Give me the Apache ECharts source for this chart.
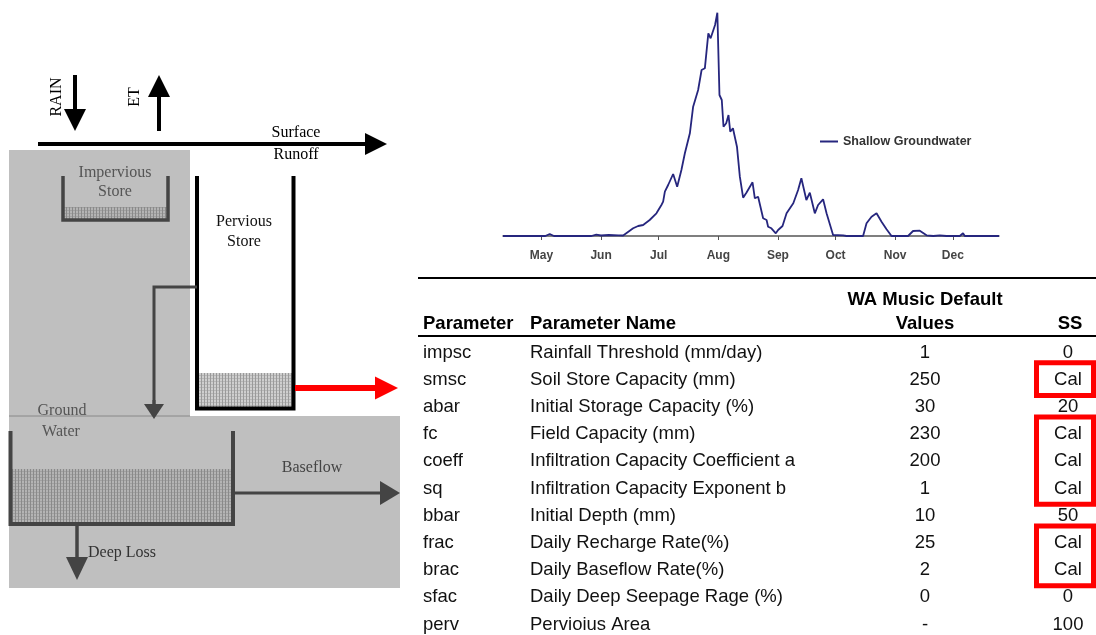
<!DOCTYPE html>
<html>
<head>
<meta charset="utf-8">
<script src="https://cdn.jsdelivr.net/npm/echarts@6/dist/echarts.min.js"></script>
<style>
  html, body { margin: 0; padding: 0; background: #fff; }
  #main { width: 1096px; height: 635px; }
</style>
</head>
<body>
<div id="main"></div>
<script>
// hydrograph: days after 1 May and shallow groundwater level (relative)
const gwDays = [-20, 2, 4.3, 6.5, 26, 28.5, 31, 35, 40, 42.5, 47.7, 50.3, 52.9, 56.3, 59.8, 62.4, 63.3, 64.2,
  65.9, 68.5, 70.6, 72.8, 74.6, 77.2, 78.9, 81.5, 83.3, 85, 86.8, 88, 90.3, 91.5, 92.6, 93.8, 94.7, 96.1,
  97.3, 98.2, 99.6, 101.7, 103.2, 104.9, 106.6, 109.8, 111, 112.7, 115.3, 117.1, 117.9, 119.6, 121.9,
  123.1, 125.4, 127.5, 131, 133.5, 135.2, 137, 137.8, 139.6, 142.2, 143.9, 146.5, 148.3, 151.7, 152.2,
  156.9, 158.7, 167.3, 169.1, 171.7, 174.3, 176.9, 179.5, 182.1, 190.7, 193.3, 196.8, 200.3, 203.8,
  207.2, 210.7, 217.6, 219.3, 220.2, 238];
const gwLevel = [0, 0, 2, 0, 0, 1.3, 0.5, 1, 0.7, 0.5, 7.7, 10, 11, 16, 22.7, 31, 34.3, 44.3,
  51, 62, 49.3, 66, 82.7, 102.7, 129.3, 146, 166, 167.7, 202.7, 197.7, 211, 223.3, 141, 136, 109.3, 112.7,
  121, 104.3, 107.7, 89.3, 59.3, 38.3, 43.3, 53.7, 37.7, 39.3, 17.7, 16, 9.3, 7.7, 2.7,
  6, 10, 22.7, 32.7, 46, 57.7, 42.7, 36, 43.3, 22.7, 31, 36.7, 22.7, 1, 0,
  0.7, 0, 0, 12.7, 19.3, 22.7, 14.3, 6.7, 0, 0, 5, 5.3, 0.7, 0,
  0.7, 0, 0, 2.7, 0, 0];

// parameter table
const paramCodes = ['impsc', 'smsc', 'abar', 'fc', 'coeff', 'sq', 'bbar', 'frac', 'brac', 'sfac', 'perv'];
const paramNames = ['Rainfall Threshold (mm/day)', 'Soil Store Capacity (mm)', 'Initial Storage Capacity (%)',
  'Field Capacity (mm)', 'Infiltration Capacity Coefficient a', 'Infiltration Capacity Exponent b',
  'Initial Depth (mm)', 'Daily Recharge Rate(%)', 'Daily Baseflow Rate(%)', 'Daily Deep Seepage Rage (%)',
  'Pervioius Area'];
const waDefaults = ['1', '250', '30', '230', '200', '1', '10', '25', '2', '0', '-'];
const ssValues = ['0', 'Cal', '20', 'Cal', 'Cal', 'Cal', '50', 'Cal', 'Cal', '0', '100'];

const DAY = 86400000;
const may1 = Date.UTC(2010, 4, 1);
const toTs = d => may1 + d * DAY;

const chart = echarts.init(document.getElementById('main'));

const serif = 'Liberation Serif, Times New Roman, serif';
const sans = 'Liberation Sans, Arial, sans-serif';

// fine hatch used for water in the stores
function makeStipple(bg, dark, light) {
  const c = document.createElement('canvas');
  c.width = 3; c.height = 3;
  const ctx = c.getContext('2d');
  ctx.fillStyle = bg; ctx.fillRect(0, 0, 3, 3);
  ctx.fillStyle = light; ctx.fillRect(0, 0, 3, 1);
  ctx.fillStyle = dark; ctx.fillRect(0, 0, 1, 3);
  return { image: c, repeat: 'repeat' };
}
const stippleGray = makeStipple('#b4b4b4', '#8a8a8a', '#a0a0a0');
const stippleWhite = makeStipple('#cfcfcf', '#9a9a9a', '#b6b6b6');

function txt(text, x, y, opts) {
  opts = opts || {};
  return {
    type: 'text', x: x, y: y, rotation: opts.rotation || 0, z: 10,
    style: {
      text: text, fill: opts.color || '#000',
      font: (opts.weight || 'normal') + ' ' + (opts.size || 16) + 'px ' + (opts.family || serif),
      textAlign: opts.align || 'center', textVerticalAlign: 'middle'
    }
  };
}
function seg(x1, y1, x2, y2, color, lw) {
  return { type: 'line', z: 5, shape: { x1: x1, y1: y1, x2: x2, y2: y2 }, style: { stroke: color, lineWidth: lw } };
}
function poly(points, color, lw) {
  return { type: 'polyline', z: 5, shape: { points: points }, style: { stroke: color, lineWidth: lw, fill: null } };
}
function box(x, y, w, h, color) {
  return { type: 'rect', z: 1, shape: { x: x, y: y, width: w, height: h }, style: { fill: color } };
}
// arrow from (x1,y1) to tip (x2,y2)
function arrow(x1, y1, x2, y2, color, lw, len, wid) {
  const dx = x2 - x1, dy = y2 - y1, L = Math.sqrt(dx * dx + dy * dy);
  const ux = dx / L, uy = dy / L;
  const bx = x2 - ux * len, by = y2 - uy * len;
  return [
    seg(x1, y1, bx + ux, by + uy, color, lw),
    { type: 'polygon', z: 6, shape: { points: [[x2, y2], [bx - uy * wid / 2, by + ux * wid / 2], [bx + uy * wid / 2, by - ux * wid / 2]] },
      style: { fill: color } }
  ];
}

let g = [];
// background of the model diagram
g.push(box(9, 150, 181, 266, '#bfbfbf'));
g.push(box(9, 416, 391, 172, '#bfbfbf'));
g.push(seg(9, 416, 190, 416, '#888', 1));
// rain, ET, surface runoff
g = g.concat(arrow(75, 75, 75, 131, '#000', 4, 22, 22));
g = g.concat(arrow(159, 131, 159, 75, '#000', 4, 22, 22));
g = g.concat(arrow(38, 144, 387, 144, '#000', 4, 22, 22));
g.push(txt('RAIN', 57, 97, { rotation: Math.PI / 2 }));
g.push(txt('ET', 135, 97, { rotation: Math.PI / 2 }));
g.push(txt('Surface', 296, 133));
g.push(txt('Runoff', 296, 155));
// impervious store
g.push(box(64, 207, 103, 12, stippleGray));
g.push(poly([[63, 176], [63, 220], [168, 220], [168, 176]], '#444', 3.5));
g.push(txt('Impervious', 115, 173, { color: '#555' }));
g.push(txt('Store', 115, 192, { color: '#555' }));
// pervious store
g.push(box(198, 373, 94, 35, stippleWhite));
g.push(poly([[197, 176], [197, 408.5], [293.5, 408.5], [293.5, 176]], '#000', 4));
g.push(txt('Pervious', 244, 222, { color: '#111' }));
g.push(txt('Store', 244, 242, { color: '#111' }));
g.push(poly([[197, 287], [154, 287], [154, 405]], '#444', 3));
g = g.concat(arrow(154, 400, 154, 419, '#444', 3, 15, 20));
g = g.concat(arrow(295, 388, 398, 388, '#f00', 6, 23, 23));
// groundwater store
g.push(txt('Ground', 62, 411, { color: '#555' }));
g.push(txt('Water', 61, 432, { color: '#555' }));
g.push(box(12, 469, 219, 54, stippleGray));
g.push(poly([[10.5, 431], [10.5, 524], [233, 524], [233, 431]], '#444', 4));
g = g.concat(arrow(234, 493, 400, 493, '#444', 3, 20, 24));
g.push(txt('Baseflow', 312, 468, { color: '#444' }));
g = g.concat(arrow(77, 525, 77, 580, '#444', 3.5, 23, 22));
g.push(txt('Deep Loss', 88, 553, { color: '#333', align: 'left' }));

// table
const col1 = 423, col2 = 530, col3 = 925, col4 = 1068;
const rowY = i => 352.5 + i * 27.2;
g.push(seg(418, 278, 1096, 278, '#000', 2));
g.push(seg(418, 336, 1096, 336, '#000', 2));
const hd = { family: sans, size: 18.5, weight: 'bold' };
g.push(txt('Parameter', col1, 324, Object.assign({ align: 'left' }, hd)));
g.push(txt('Parameter Name', col2, 324, Object.assign({ align: 'left' }, hd)));
g.push(txt('WA Music Default', col3, 300, hd));
g.push(txt('Values', col3, 324, hd));
g.push(txt('SS', col4 + 2, 324, hd));
const bd = { family: sans, size: 18.5, color: '#111' };
paramCodes.forEach((p, i) => {
  const y = rowY(i);
  g.push(txt(p, col1, y, Object.assign({ align: 'left' }, bd)));
  g.push(txt(paramNames[i], col2, y, Object.assign({ align: 'left' }, bd)));
  g.push(txt(waDefaults[i], col3, y, bd));
  g.push(txt(ssValues[i], col4, y, bd));
});
// red boxes round each run of calibrated values
for (let i = 0; i < ssValues.length; i++) {
  if (ssValues[i] !== 'Cal') continue;
  let j = i;
  while (j + 1 < ssValues.length && ssValues[j + 1] === 'Cal') j++;
  const top = rowY(i) - 17, bottom = rowY(j) + 15.7;
  g.push({ type: 'rect', z: 8, shape: { x: 1036.5, y: top, width: 57, height: bottom - top },
    style: { fill: null, stroke: '#f00', lineWidth: 5 } });
  i = j;
}

const option = {
  animation: false,
  backgroundColor: '#fff',
  grid: { left: 503, right: 97, top: 6, bottom: 399 },
  legend: {
    data: ['Shallow Groundwater'],
    left: 820, top: 135, padding: 0,
    icon: 'rect', itemWidth: 18, itemHeight: 2,
    textStyle: { fontSize: 12.5, fontWeight: 'bold', color: '#333', fontFamily: sans }
  },
  xAxis: {
    type: 'time',
    min: toTs(-20), max: toTs(238),
    splitNumber: 9,
    maxInterval: 31 * DAY,
    axisLine: { lineStyle: { color: '#555', width: 1.5 } },
    axisTick: { length: 4, lineStyle: { color: '#555' } },
    axisLabel: { formatter: '{MMM}', color: '#444', fontWeight: 'bold', fontSize: 12, fontFamily: sans, margin: 14 },
    splitLine: { show: false }
  },
  yAxis: { type: 'value', min: 0, max: 230, show: false },
  series: [{
    name: 'Shallow Groundwater',
    type: 'line',
    symbol: 'none',
    lineStyle: { color: '#26267e', width: 1.8 },
    itemStyle: { color: '#26267e' },
    data: gwDays.map((d, i) => [toTs(d), gwLevel[i]])
  }],
  graphic: g
};
chart.setOption(option);
</script>
</body>
</html>
